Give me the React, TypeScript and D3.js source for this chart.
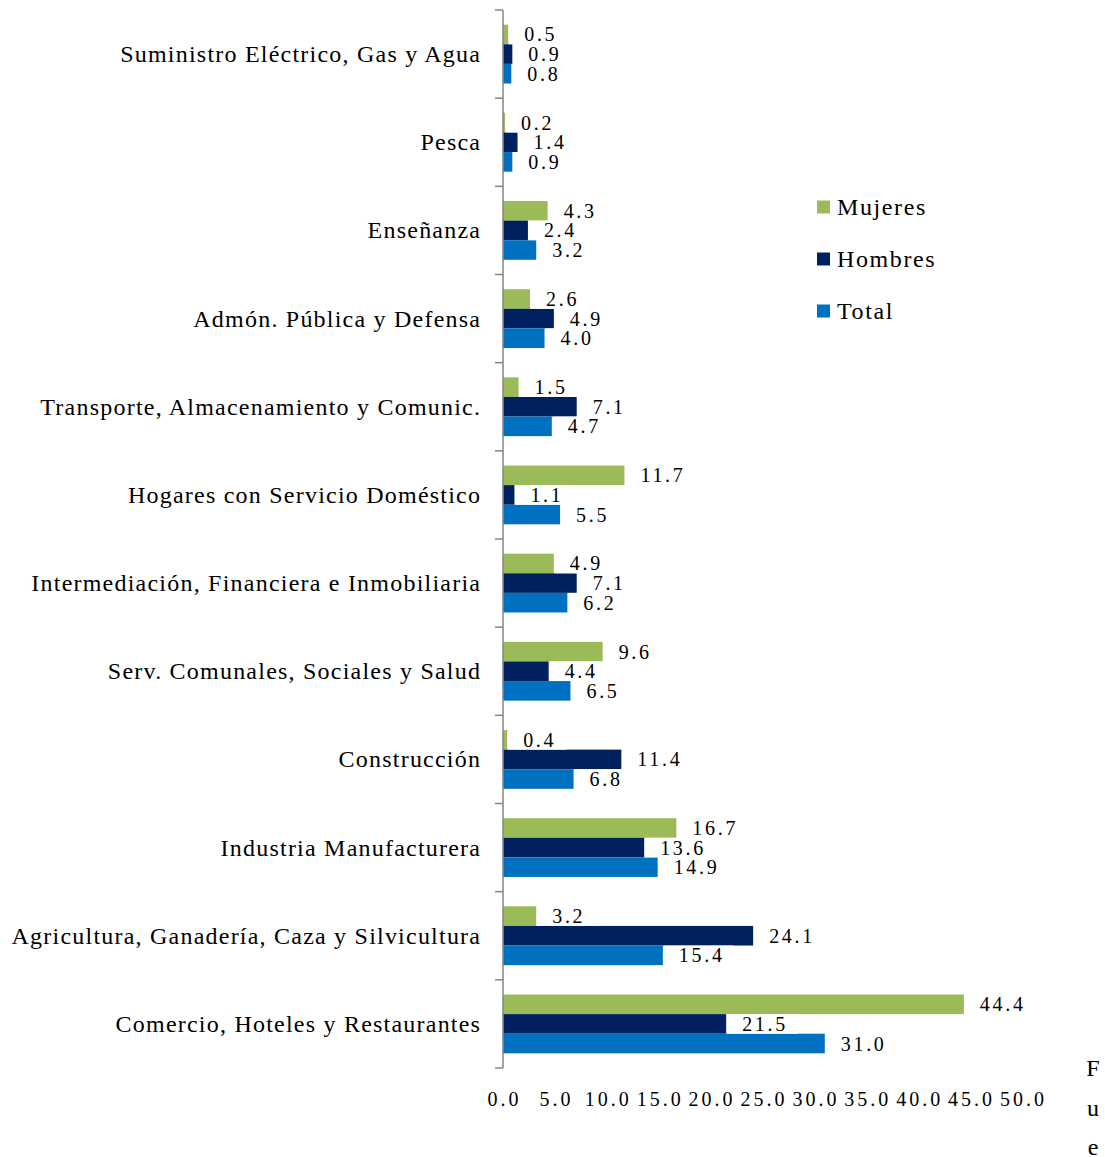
import React from "react";
import * as d3 from "d3";

const categories = [
  "Suministro Eléctrico, Gas y Agua",
  "Pesca",
  "Enseñanza",
  "Admón. Pública y Defensa",
  "Transporte, Almacenamiento y Comunic.",
  "Hogares con Servicio Doméstico",
  "Intermediación, Financiera e Inmobiliaria",
  "Serv. Comunales, Sociales y Salud",
  "Construcción",
  "Industria Manufacturera",
  "Agricultura, Ganadería, Caza y Silvicultura",
  "Comercio, Hoteles y Restaurantes",
];

const mujeres = [0.5, 0.2, 4.3, 2.6, 1.5, 11.7, 4.9, 9.6, 0.4, 16.7, 3.2, 44.4];
const hombres = [0.9, 1.4, 2.4, 4.9, 7.1, 1.1, 7.1, 4.4, 11.4, 13.6, 24.1, 21.5];
const total = [0.8, 0.9, 3.2, 4.0, 4.7, 5.5, 6.2, 6.5, 6.8, 14.9, 15.4, 31.0];

const seriesNames = ["Mujeres", "Hombres", "Total"];
const seriesColors = ["#9BBB59", "#002060", "#0070C0"];
const xTicks = [0, 5, 10, 15, 20, 25, 30, 35, 40, 45, 50];

const W = 1105, H = 1157;
const FONT = "'Liberation Serif', 'Times New Roman', serif";

export default function App() {
  const x = d3.scaleLinear().domain([0, 50]).range([503, 1022]);
  const y = d3.scaleBand<string>().domain(categories).range([10, 1068]).padding(0);
  const ys = d3.scaleBand<string>().domain(seriesNames).range([0, y.bandwidth()]).paddingInner(0).paddingOuter(0.75);
  const series = [mujeres, hombres, total];
  const bw = ys.bandwidth();

  return (
    <svg width={W} height={H} style={{ position: "absolute", left: 0, top: 0, background: "#fff" }} fontFamily={FONT}>
      {/* bars */}
      {categories.map((c, i) => (
        <g key={c} transform={`translate(0,${y(c)})`}>
          {series.map((s, k) => (
            <rect key={k} x={x(0)} y={ys(seriesNames[k])} width={x(s[i]) - x(0)} height={bw} fill={seriesColors[k]} />
          ))}
        </g>
      ))}
      {/* value labels, white box behind like the original */}
      {categories.map((c, i) => (
        <g key={c} transform={`translate(0,${y(c)})`}>
          {series.map((s, k) => {
            const lx = x(s[i]);
            const ly = (ys(seriesNames[k]) as number) + bw / 2;
            const label = s[i].toFixed(1);
            return (
              <g key={k}>
                <rect x={lx + 1} y={ly - bw / 2} width={22 + label.length * 12} height={bw} fill="#fff" />
                <text x={lx + 16} y={ly} dy="0.35em" fontSize={20} letterSpacing={2.7} fill="#000">
                  {label}
                </text>
              </g>
            );
          })}
        </g>
      ))}
      {/* y axis */}
      <line x1={x(0)} x2={x(0)} y1={10} y2={1068} stroke="#868686" strokeWidth={1.5} />
      {categories.concat(["__end"]).map((c, i) => {
        const ty = i < categories.length ? (y(c) as number) : 1068;
        return <line key={i} x1={x(0) - 8} x2={x(0)} y1={ty} y2={ty} stroke="#868686" strokeWidth={1.5} />;
      })}
      {categories.map((c) => (
        <text key={c} x={481.2} y={(y(c) as number) + y.bandwidth() / 2} dy="0.33em" textAnchor="end" fontSize={24} letterSpacing={1.22} fill="#000">
          {c}
        </text>
      ))}
      {/* x tick labels */}
      {xTicks.map((t) => (
        <text key={t} x={x(t) + 1.5} y={1099} dy="0.35em" textAnchor="middle" fontSize={20} letterSpacing={3} fill="#000">
          {t.toFixed(1)}
        </text>
      ))}
      {/* legend */}
      {seriesNames.map((n, k) => (
        <g key={n} transform={`translate(817,${207 + k * 52})`}>
          <rect x={0} y={-6.5} width={13} height={13} fill={seriesColors[k]} />
          <text x={20} y={0} dy="0.33em" fontSize={24} letterSpacing={1.6} fill="#000">{n}</text>
        </g>
      ))}
      {/* truncated source note */}
      {["F", "u", "e"].map((ch, i) => (
        <text key={i} x={1093} y={1068 + i * 39.5} dy="0.35em" textAnchor="middle" fontSize={24} fill="#000">{ch}</text>
      ))}
    </svg>
  );
}
